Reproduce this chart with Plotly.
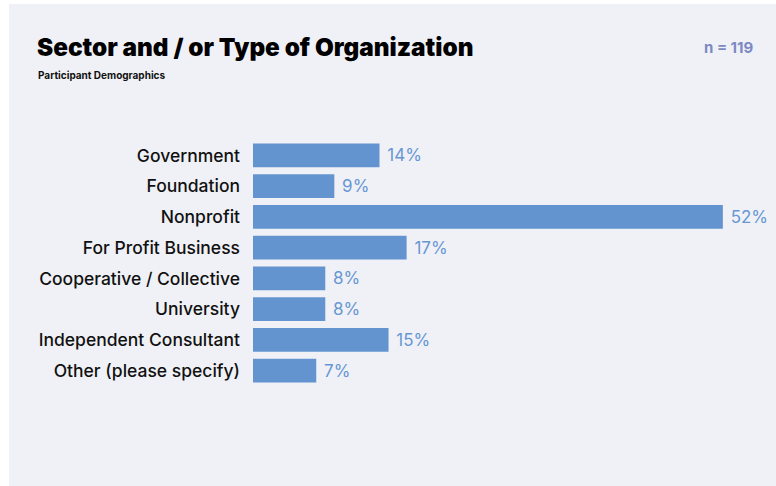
import plotly.graph_objects as go

categories = [
    "Government",
    "Foundation",
    "Nonprofit",
    "For Profit Business",
    "Cooperative / Collective",
    "University",
    "Independent Consultant",
    "Other (please specify)",
]
percent = [14, 9, 52, 17, 8, 8, 15, 7]

W, H = 776, 486
ML, MR, MT, MB = 253, 17, 140, 100
PW, PH = W - ML - MR, H - MT - MB

PANEL = "#f0f1f7"
BAR = "#6394cf"
VALUE = "#6797d3"
INK = "#111111"


def px_x(px):
    return (px - ML) / PW


def px_y(py):
    return (H - MB - py) / PH


fig = go.Figure(
    go.Bar(
        x=percent,
        y=categories,
        orientation="h",
        marker=dict(color=BAR, line=dict(width=0)),
        text=[f" {v}%" for v in percent],
        textposition="outside",
        textfont=dict(family="Inter", size=17, color=VALUE, weight=400),
        cliponaxis=False,
        hoverinfo="skip",
    )
)

fig.update_layout(
    width=W,
    height=H,
    margin=dict(l=ML, r=MR, t=MT, b=MB, pad=0),
    paper_bgcolor="white",
    plot_bgcolor=PANEL,
    showlegend=False,
    bargap=0.22,
    xaxis=dict(range=[0, 56], visible=False, fixedrange=True),
    yaxis=dict(
        autorange="reversed",
        showgrid=False,
        zeroline=False,
        showline=False,
        ticks="",
        ticklabelstandoff=12,
        tickfont=dict(family="Inter", size=17.5, color=INK, weight=500),
        fixedrange=True,
    ),
    shapes=[
        dict(
            type="rect",
            xref="paper",
            yref="paper",
            x0=px_x(9),
            x1=px_x(W + 2),
            y0=px_y(H + 2),
            y1=px_y(4),
            fillcolor=PANEL,
            line=dict(width=0),
            layer="below",
        )
    ],
    annotations=[
        dict(
            text="Sector and / or Type of Organization",
            xref="paper", yref="paper",
            x=px_x(35), y=px_y(47),
            xanchor="left", yanchor="middle",
            showarrow=False,
            font=dict(family="Inter", size=24.3, color="#000000", weight=900),
        ),
        dict(
            text="<b>Participant Demographics</b>",
            xref="paper", yref="paper",
            x=px_x(36), y=px_y(75),
            xanchor="left", yanchor="middle",
            showarrow=False,
            font=dict(family="Inter", size=10, color="#111111"),
        ),
        dict(
            text="<b>n = 119</b>",
            xref="paper", yref="paper",
            x=px_x(756), y=px_y(47),
            xanchor="right", yanchor="middle",
            showarrow=False,
            font=dict(family="Inter", size=15, color="#7c89c2"),
        ),
    ],
)

fig.write_html("out.html")
